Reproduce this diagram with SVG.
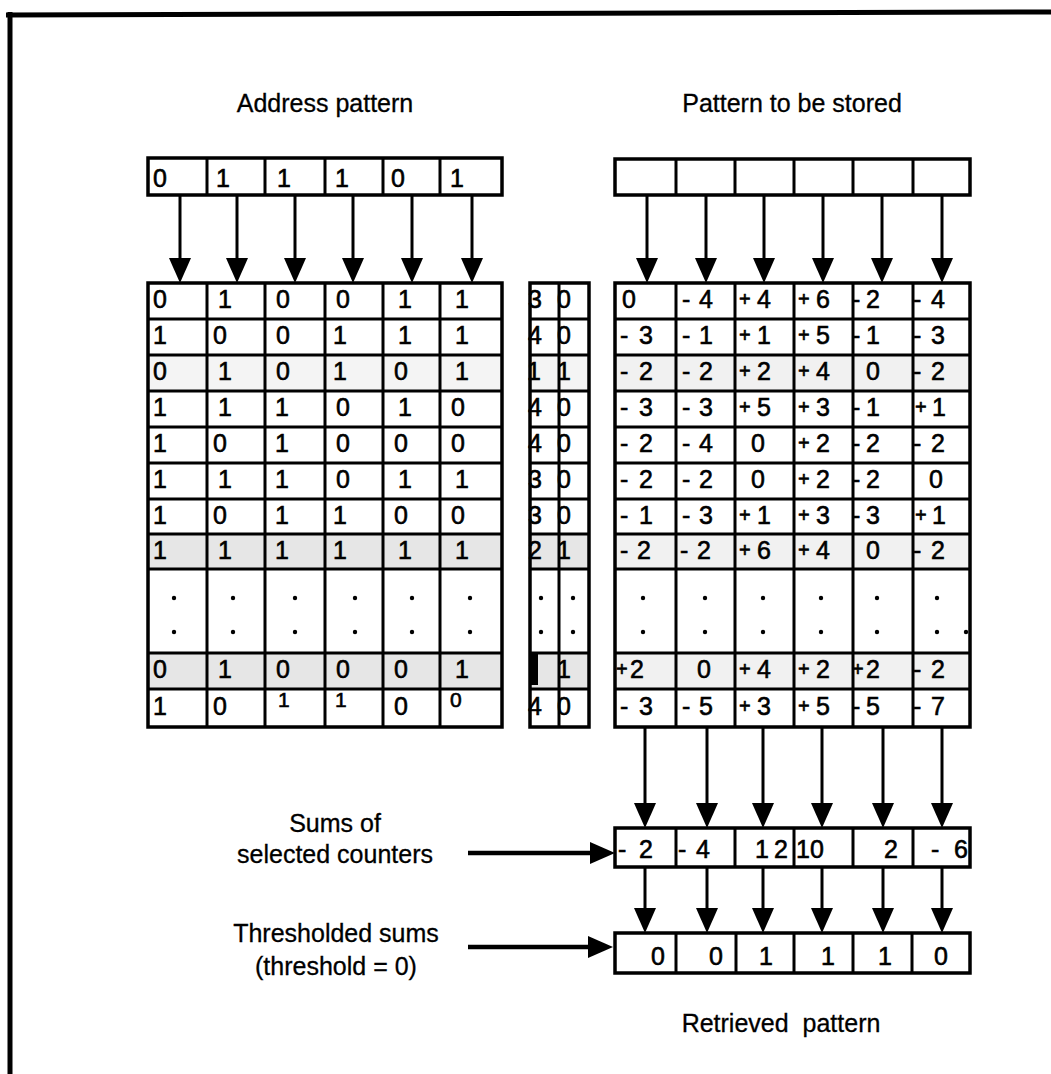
<svg xmlns="http://www.w3.org/2000/svg" width="1051" height="1074" viewBox="0 0 1051 1074">
  <defs>
    <style>
      .ln { stroke: #000; stroke-width: 3; fill: none; }
      .box { stroke: #000; stroke-width: 3.5; fill: none; }
      .t { font-family: "Liberation Sans", Arial, Helvetica, sans-serif; font-size: 25px; fill: #000; stroke: #000; stroke-width: 0.6; }
      .p { font-size: 20px; }
      .lbl { font-family: "Liberation Sans", Arial, Helvetica, sans-serif; font-size: 25px; fill: #000; text-anchor: middle; stroke: #000; stroke-width: 0.3; }
      .sel { fill: #e6e6e6; }
      .selr { fill: #f1f1f1; }
      .dot { fill: #000; }
      .arrow { stroke: #000; stroke-width: 3; fill: none; marker-end: url(#head); }
      .arrowb { stroke: #000; stroke-width: 4.5; fill: none; marker-end: url(#head); }
    </style>
    <marker id="head" viewBox="0 0 25 22" refX="15" refY="11" markerWidth="25" markerHeight="22" markerUnits="userSpaceOnUse" orient="auto">
      <path d="M0,0 L25,11 L0,22 Z" fill="#000"/>
    </marker>
  </defs>

  <rect width="1051" height="1074" fill="#fff"/>

  <!-- page frame -->
  <g id="frame">
    <line x1="6" y1="15" x2="1051" y2="12" stroke="#000" stroke-width="5"/>
    <line x1="10" y1="12" x2="10" y2="1074" stroke="#000" stroke-width="5"/>
  </g>

  <!-- headings -->
  <g id="headings">
    <text class="lbl" x="325" y="112">Address pattern</text>
    <text class="lbl" x="792" y="112">Pattern to be stored</text>
  </g>

  <!-- address register -->
  <g id="address-register">
    <rect class="box" x="148" y="158" width="354" height="37"/>
    <path class="ln" d="M207,158V195M265,158V195M325,158V195M383,158V195M440,158V195"/>
    <g class="t">
      <text y="187"><tspan x="153">0</tspan><tspan x="216">1</tspan><tspan x="277">1</tspan><tspan x="335">1</tspan><tspan x="391">0</tspan><tspan x="450">1</tspan></text>
    </g>
  </g>

  <!-- data register (pattern to be stored) -->
  <g id="data-register">
    <rect class="box" x="615" y="159" width="355" height="36"/>
    <path class="ln" d="M676,159V195M735,159V195M794,159V195M853,159V195M913,159V195"/>
  </g>

  <!-- hard-location addresses -->
  <g id="address-matrix">
    <rect class="sel" x="148" y="355" width="354" height="36" opacity="0.45"/>
    <rect class="sel" x="148" y="534" width="354" height="35"/>
    <rect class="sel" x="148" y="653" width="354" height="36"/>
    <rect class="box" x="148" y="283" width="354" height="444" stroke-width="4"/>
    <path class="ln" d="M207,283V727M265,283V727M325,283V727M383,283V727M440,283V727"/>
    <path class="ln" d="M148,319H502M148,355H502M148,391H502M148,427H502M148,463H502M148,499H502M148,534H502M148,569H502M148,653H502M148,689H502"/>
    <g class="t">
      <text y="308"><tspan x="153">0</tspan><tspan x="218">1</tspan><tspan x="276">0</tspan><tspan x="336">0</tspan><tspan x="398">1</tspan><tspan x="455">1</tspan></text>
      <text y="344"><tspan x="153">1</tspan><tspan x="213">0</tspan><tspan x="276">0</tspan><tspan x="333">1</tspan><tspan x="398">1</tspan><tspan x="455">1</tspan></text>
      <text y="380"><tspan x="153">0</tspan><tspan x="218">1</tspan><tspan x="276">0</tspan><tspan x="333">1</tspan><tspan x="394">0</tspan><tspan x="455">1</tspan></text>
      <text y="416"><tspan x="153">1</tspan><tspan x="218">1</tspan><tspan x="275">1</tspan><tspan x="336">0</tspan><tspan x="398">1</tspan><tspan x="451">0</tspan></text>
      <text y="452"><tspan x="153">1</tspan><tspan x="213">0</tspan><tspan x="275">1</tspan><tspan x="336">0</tspan><tspan x="394">0</tspan><tspan x="451">0</tspan></text>
      <text y="488"><tspan x="153">1</tspan><tspan x="218">1</tspan><tspan x="275">1</tspan><tspan x="336">0</tspan><tspan x="398">1</tspan><tspan x="455">1</tspan></text>
      <text y="524"><tspan x="153">1</tspan><tspan x="213">0</tspan><tspan x="275">1</tspan><tspan x="333">1</tspan><tspan x="394">0</tspan><tspan x="451">0</tspan></text>
      <text y="559"><tspan x="153">1</tspan><tspan x="218">1</tspan><tspan x="275">1</tspan><tspan x="333">1</tspan><tspan x="398">1</tspan><tspan x="455">1</tspan></text>
      <text y="678"><tspan x="153">0</tspan><tspan x="218">1</tspan><tspan x="276">0</tspan><tspan x="336">0</tspan><tspan x="394">0</tspan><tspan x="455">1</tspan></text>
      <text y="715"><tspan x="153">1</tspan><tspan x="213">0</tspan><tspan x="394">0</tspan></text>
      <text y="707" font-size="21"><tspan x="278">1</tspan><tspan x="335">1</tspan><tspan x="450">0</tspan></text>
    </g>
    <g class="dot">
      <circle cx="174" cy="598" r="2.2"/><circle cx="174" cy="632" r="2.2"/>
      <circle cx="233" cy="598" r="2.2"/><circle cx="233" cy="632" r="2.2"/>
      <circle cx="295" cy="598" r="2.2"/><circle cx="295" cy="632" r="2.2"/>
      <circle cx="355" cy="598" r="2.2"/><circle cx="355" cy="632" r="2.2"/>
      <circle cx="412" cy="598" r="2.2"/><circle cx="412" cy="632" r="2.2"/>
      <circle cx="470" cy="598" r="2.2"/><circle cx="470" cy="632" r="2.2"/>
    </g>
  </g>

  <!-- distance / selected columns -->
  <g id="distance-column">
    <rect class="sel" x="530" y="355" width="59" height="36" opacity="0.45"/>
    <rect class="sel" x="530" y="534" width="59" height="35"/>
    <rect class="sel" x="530" y="653" width="59" height="36"/>
    <g class="t">
      <text y="308"><tspan x="528">3</tspan><tspan x="557">0</tspan></text>
      <text y="344"><tspan x="528">4</tspan><tspan x="557">0</tspan></text>
      <text y="380"><tspan x="527">1</tspan><tspan x="557">1</tspan></text>
      <text y="416"><tspan x="528">4</tspan><tspan x="557">0</tspan></text>
      <text y="452"><tspan x="528">4</tspan><tspan x="557">0</tspan></text>
      <text y="488"><tspan x="528">3</tspan><tspan x="557">0</tspan></text>
      <text y="524"><tspan x="528">3</tspan><tspan x="557">0</tspan></text>
      <text y="559"><tspan x="528">2</tspan><tspan x="557">1</tspan></text>
      <text y="678"><tspan x="557">1</tspan></text>
      <text y="715"><tspan x="528">4</tspan><tspan x="557">0</tspan></text>
    </g>
    <rect x="530" y="654" width="8" height="31" fill="#000"/>
    <rect class="box" x="530" y="283" width="59" height="444" stroke-width="4"/>
    <path class="ln" d="M559,283V727"/>
    <path class="ln" d="M530,319H589M530,355H589M530,391H589M530,427H589M530,463H589M530,499H589M530,534H589M530,569H589M530,653H589M530,689H589"/>
    <g class="dot">
      <circle cx="541" cy="598" r="2.2"/><circle cx="541" cy="632" r="2.2"/>
      <circle cx="573" cy="598" r="2.2"/><circle cx="573" cy="632" r="2.2"/>
    </g>
  </g>

  <!-- counters -->
  <g id="counter-matrix">
    <rect class="selr" x="615" y="355" width="355" height="36"/>
    <rect class="selr" x="615" y="534" width="355" height="35"/>
    <rect class="selr" x="615" y="653" width="355" height="36"/>
    <rect class="box" x="615" y="283" width="355" height="444" stroke-width="4"/>
    <path class="ln" d="M676,283V727M735,283V727M794,283V727M853,283V727M913,283V727"/>
    <path class="ln" d="M615,319H970M615,355H970M615,391H970M615,427H970M615,463H970M615,499H970M615,534H970M615,569H970M615,653H970M615,689H970"/>
    <g class="t">
      <!-- row 1 -->
      <text y="308"><tspan x="622">0</tspan><tspan x="682">-</tspan><tspan x="699">4</tspan><tspan class="p" x="739" dy="-2">+</tspan><tspan x="757" dy="2">4</tspan><tspan class="p" x="798" dy="-2">+</tspan><tspan x="816" dy="2">6</tspan><tspan x="852">-</tspan><tspan x="866">2</tspan><tspan x="913">-</tspan><tspan x="931">4</tspan></text>
      <!-- row 2 -->
      <text y="344"><tspan x="620">-</tspan><tspan x="639">3</tspan><tspan x="682">-</tspan><tspan x="699">1</tspan><tspan class="p" x="739" dy="-2">+</tspan><tspan x="757" dy="2">1</tspan><tspan class="p" x="798" dy="-2">+</tspan><tspan x="816" dy="2">5</tspan><tspan x="852">-</tspan><tspan x="866">1</tspan><tspan x="913">-</tspan><tspan x="931">3</tspan></text>
      <!-- row 3 -->
      <text y="380"><tspan x="620">-</tspan><tspan x="639">2</tspan><tspan x="682">-</tspan><tspan x="699">2</tspan><tspan class="p" x="739" dy="-2">+</tspan><tspan x="757" dy="2">2</tspan><tspan class="p" x="798" dy="-2">+</tspan><tspan x="816" dy="2">4</tspan><tspan x="866">0</tspan><tspan x="913">-</tspan><tspan x="931">2</tspan></text>
      <!-- row 4 -->
      <text y="416"><tspan x="620">-</tspan><tspan x="639">3</tspan><tspan x="682">-</tspan><tspan x="699">3</tspan><tspan class="p" x="739" dy="-2">+</tspan><tspan x="757" dy="2">5</tspan><tspan class="p" x="798" dy="-2">+</tspan><tspan x="816" dy="2">3</tspan><tspan x="852">-</tspan><tspan x="866">1</tspan><tspan class="p" x="915" dy="-2">+</tspan><tspan x="932" dy="2">1</tspan></text>
      <!-- row 5 -->
      <text y="452"><tspan x="620">-</tspan><tspan x="639">2</tspan><tspan x="682">-</tspan><tspan x="699">4</tspan><tspan x="751">0</tspan><tspan class="p" x="798" dy="-2">+</tspan><tspan x="816" dy="2">2</tspan><tspan x="852">-</tspan><tspan x="866">2</tspan><tspan x="913">-</tspan><tspan x="931">2</tspan></text>
      <!-- row 6 -->
      <text y="488"><tspan x="620">-</tspan><tspan x="639">2</tspan><tspan x="682">-</tspan><tspan x="699">2</tspan><tspan x="751">0</tspan><tspan class="p" x="798" dy="-2">+</tspan><tspan x="816" dy="2">2</tspan><tspan x="852">-</tspan><tspan x="866">2</tspan><tspan x="929">0</tspan></text>
      <!-- row 7 -->
      <text y="524"><tspan x="620">-</tspan><tspan x="639">1</tspan><tspan x="682">-</tspan><tspan x="699">3</tspan><tspan class="p" x="739" dy="-2">+</tspan><tspan x="757" dy="2">1</tspan><tspan class="p" x="798" dy="-2">+</tspan><tspan x="816" dy="2">3</tspan><tspan x="852">-</tspan><tspan x="866">3</tspan><tspan class="p" x="915" dy="-2">+</tspan><tspan x="932" dy="2">1</tspan></text>
      <!-- row 8 -->
      <text y="559"><tspan x="620">-</tspan><tspan x="637">2</tspan><tspan x="680">-</tspan><tspan x="697">2</tspan><tspan class="p" x="739" dy="-2">+</tspan><tspan x="757" dy="2">6</tspan><tspan class="p" x="798" dy="-2">+</tspan><tspan x="816" dy="2">4</tspan><tspan x="866">0</tspan><tspan x="913">-</tspan><tspan x="931">2</tspan></text>
      <!-- row 10 -->
      <text y="678"><tspan class="p" x="616" dy="-2">+</tspan><tspan x="630" dy="2">2</tspan><tspan x="697">0</tspan><tspan class="p" x="739" dy="-2">+</tspan><tspan x="757" dy="2">4</tspan><tspan class="p" x="798" dy="-2">+</tspan><tspan x="816" dy="2">2</tspan><tspan class="p" x="852" dy="-2">+</tspan><tspan x="866" dy="2">2</tspan><tspan x="913">-</tspan><tspan x="931">2</tspan></text>
      <!-- row 11 -->
      <text y="715"><tspan x="620">-</tspan><tspan x="639">3</tspan><tspan x="682">-</tspan><tspan x="699">5</tspan><tspan class="p" x="739" dy="-2">+</tspan><tspan x="757" dy="2">3</tspan><tspan class="p" x="798" dy="-2">+</tspan><tspan x="816" dy="2">5</tspan><tspan x="852">-</tspan><tspan x="866">5</tspan><tspan x="913">-</tspan><tspan x="931">7</tspan></text>
    </g>
    <g class="dot">
      <circle cx="643" cy="598" r="2.2"/><circle cx="643" cy="632" r="2.2"/>
      <circle cx="705" cy="598" r="2.2"/><circle cx="705" cy="632" r="2.2"/>
      <circle cx="763" cy="598" r="2.2"/><circle cx="763" cy="632" r="2.2"/>
      <circle cx="821" cy="598" r="2.2"/><circle cx="821" cy="632" r="2.2"/>
      <circle cx="877" cy="598" r="2.2"/><circle cx="877" cy="632" r="2.2"/>
      <circle cx="937" cy="598" r="2.2"/><circle cx="937" cy="632" r="2.2"/>
      <circle cx="966" cy="632" r="2.2"/>
    </g>
  </g>

  <!-- sums of selected counters -->
  <g id="sums-row">
    <rect class="box" x="615" y="828" width="355" height="39"/>
    <path class="ln" d="M676,828V867M735,828V867M794,828V867M853,828V867M913,828V867"/>
    <g class="t">
      <text y="858"><tspan x="618">-</tspan><tspan x="639">2</tspan><tspan x="678">-</tspan><tspan x="696">4</tspan><tspan x="755">1</tspan><tspan x="774">2</tspan><tspan x="796">10</tspan><tspan x="884">2</tspan><tspan x="931">-</tspan><tspan x="954">6</tspan></text>
    </g>
  </g>

  <!-- thresholded sums -->
  <g id="thresholded-row">
    <rect class="box" x="615" y="933" width="355" height="40"/>
    <path class="ln" d="M676,933V973M736,933V973M794,933V973M853,933V973M912,933V973"/>
    <g class="t">
      <text y="965"><tspan x="651">0</tspan><tspan x="709">0</tspan><tspan x="759">1</tspan><tspan x="821">1</tspan><tspan x="878">1</tspan><tspan x="934">0</tspan></text>
    </g>
  </g>

  <!-- side labels -->
  <g id="labels">
    <text class="lbl" x="335" y="832">Sums of</text>
    <text class="lbl" x="335" y="863">selected counters</text>
    <text class="lbl" x="336" y="942">Thresholded sums</text>
    <text class="lbl" x="336" y="975">(threshold = 0)</text>
    <text class="lbl" x="781" y="1032" xml:space="preserve">Retrieved  pattern</text>
  </g>

  <!-- connectors -->
  <g id="connectors">
    <!-- address bits into address matrix -->
    <path class="arrow" d="M180,195V273"/>
    <path class="arrow" d="M237,195V273"/>
    <path class="arrow" d="M295,195V273"/>
    <path class="arrow" d="M353,195V273"/>
    <path class="arrow" d="M412,195V273"/>
    <path class="arrow" d="M472,195V273"/>
    <!-- data bits into counters -->
    <path class="arrow" d="M647,195V273"/>
    <path class="arrow" d="M706,195V273"/>
    <path class="arrow" d="M764,195V273"/>
    <path class="arrow" d="M823,195V273"/>
    <path class="arrow" d="M882,195V273"/>
    <path class="arrow" d="M942,195V273"/>
    <!-- counters into sums -->
    <path class="arrow" d="M645,727V818"/>
    <path class="arrow" d="M707,727V818"/>
    <path class="arrow" d="M763,727V818"/>
    <path class="arrow" d="M822,727V818"/>
    <path class="arrow" d="M883,727V818"/>
    <path class="arrow" d="M942,727V818"/>
    <!-- sums into thresholded -->
    <path class="arrow" d="M645,867V923"/>
    <path class="arrow" d="M707,867V923"/>
    <path class="arrow" d="M763,867V923"/>
    <path class="arrow" d="M822,867V923"/>
    <path class="arrow" d="M883,867V923"/>
    <path class="arrow" d="M942,867V923"/>
    <!-- label pointers -->
    <path class="arrowb" d="M468,853H605"/>
    <path class="arrowb" d="M468,947H603"/>
  </g>
</svg>
